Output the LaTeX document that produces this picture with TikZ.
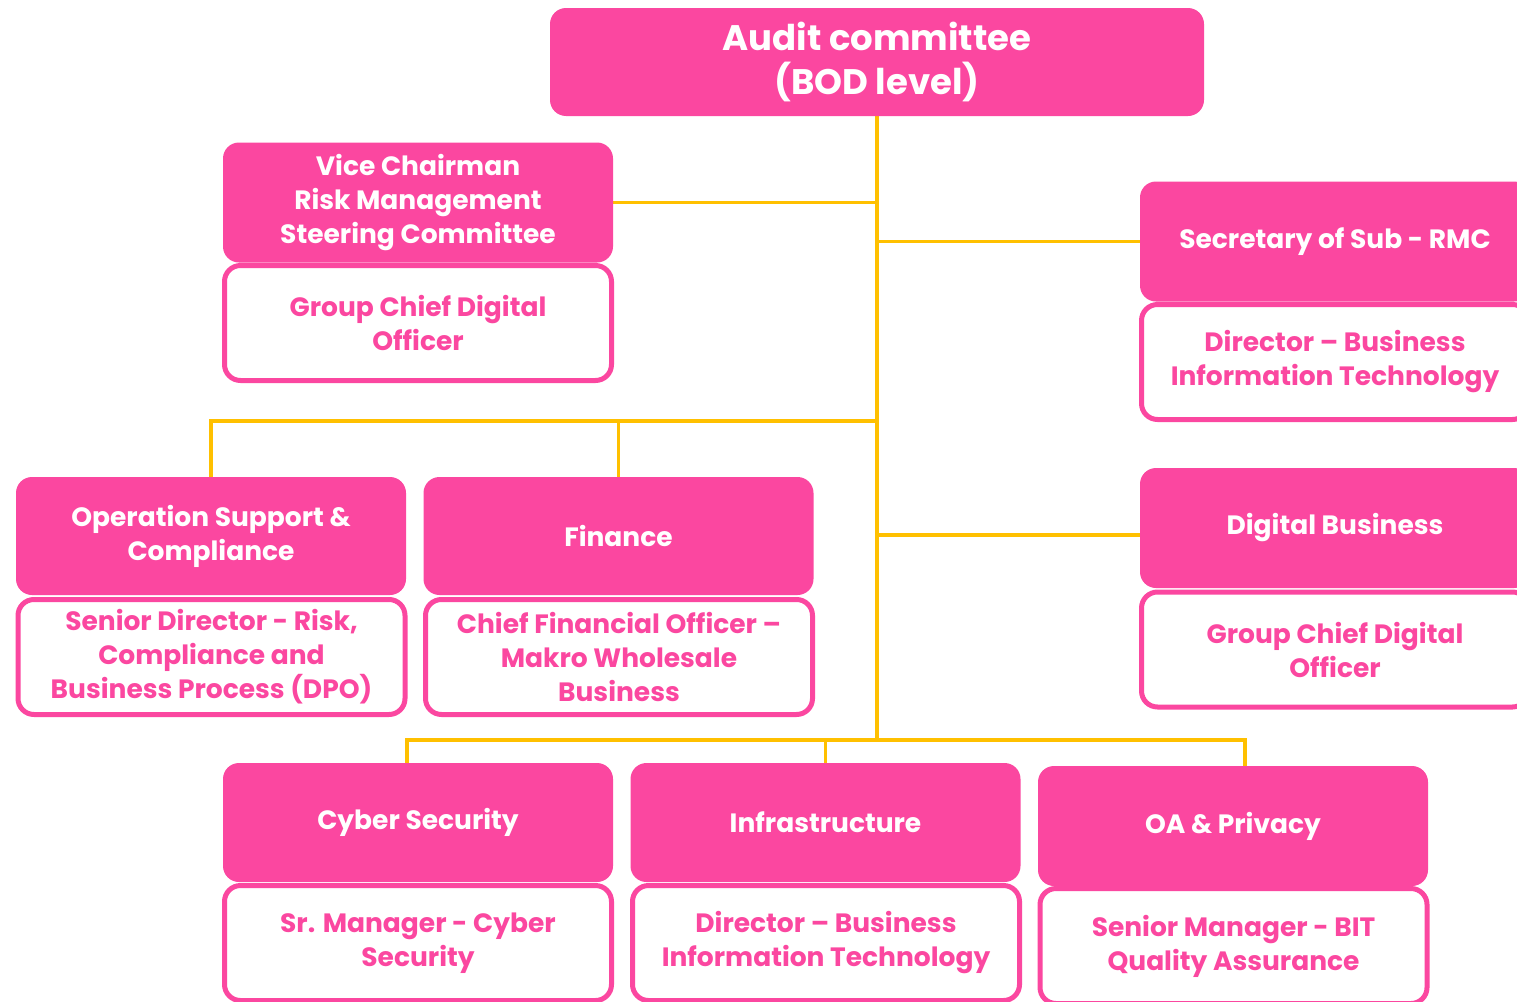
\documentclass[tikz,border=0pt]{standalone}
\usepackage{fontspec}
\setmainfont{Poppins}
\usetikzlibrary{backgrounds}
\definecolor{pk}{HTML}{FB47A0}
\definecolor{yl}{HTML}{FFC000}
\tikzset{
  hdr/.style={rectangle, rounded corners=16pt, fill=pk, text=white, minimum width=390pt, minimum height=120pt, align=center, inner sep=0pt, font=\fontsize{26.5}{34}\selectfont\bfseries},
  sub/.style={rectangle, rounded corners=16pt, draw=pk, line width=5pt, fill=white, text=pk, minimum width=387pt, minimum height=115pt, align=center, inner sep=0pt, font=\fontsize{26.5}{34}\selectfont\bfseries},
  conn/.style={draw=yl, line width=3.5pt}
}
\begin{document}
\begin{tikzpicture}[x=1pt,y=-1pt]
\useasboundingbox (0,0) rectangle (1517,1001);
% top
\node[hdr, minimum width=654pt, minimum height=108pt, font=\fontsize{35.5}{44}\selectfont\bfseries] (top) at (877,62) {Audit committee\\(BOD level)};
% vice chairman
\node[sub] (vcs) at (418,323) {Group Chief Digital\\Officer};
\node[hdr] (vc) at (418,202.5) {Vice Chairman\\Risk Management\\Steering Committee};
% secretary
\node[sub] (secs) at (1335,362) {Director -- Business\\Information Technology};
\node[hdr] (sec) at (1335,241.5) {Secretary of Sub - RMC};
% operation support
\node[sub] (ops) at (211.5,657) {Senior Director - Risk,\\Compliance and\\Business Process (DPO)};
\node[hdr, minimum height=118pt] (op) at (211,536) {Operation Support \&\\Compliance};
% finance
\node[sub] (fins) at (619,657) {Chief Financial Officer --\\Makro Wholesale\\Business};
\node[hdr, minimum height=118pt] (fin) at (618.5,536) {Finance};
% digital business
\node[sub] (digs) at (1335,649.5) {Group Chief Digital\\Officer};
\node[hdr] (dig) at (1335,528) {Digital Business};
% cyber
\node[sub] (cybs) at (418,943) {Sr. Manager - Cyber\\Security};
\node[hdr, minimum height=119pt] (cyb) at (418,822.5) {Cyber Security};
% infrastructure
\node[sub] (infs) at (826,943) {Director -- Business\\Information Technology};
\node[hdr, minimum height=119pt] (inf) at (825.5,822.5) {Infrastructure};
% OA
\node[sub] (oas) at (1233.5,946) {Senior Manager - BIT\\Quality Assurance};
\node[hdr] (oa) at (1233,826) {OA \& Privacy};
% connectors
\coordinate (busA) at (877,421);
\coordinate (busB) at (877,740);
\coordinate (cybIn) at ([xshift=-11pt]cyb.north);
\coordinate (oaIn) at ([xshift=12pt]oa.north);
\begin{scope}[on background layer]
\draw[conn] (top.south) -- (busB);
\draw[conn] (vc.east) -- (vc.east -| top.south);
\draw[conn] (sec.west) -- (sec.west -| top.south);
\draw[conn] ([yshift=-7pt]dig.west) -- ([yshift=-7pt]dig.west -| top.south);
\draw[conn] (busA) -- (busA -| op.north) -- (op.north);
\draw[conn] (busA -| fin.north) -- (fin.north);
\draw[conn] (busB) -- (busB -| cybIn) -- (cybIn);
\draw[conn] (busB -| inf.north) -- (inf.north);
\draw[conn] (busB) -- (busB -| oaIn) -- (oaIn);
\end{scope}
\end{tikzpicture}
\end{document}
